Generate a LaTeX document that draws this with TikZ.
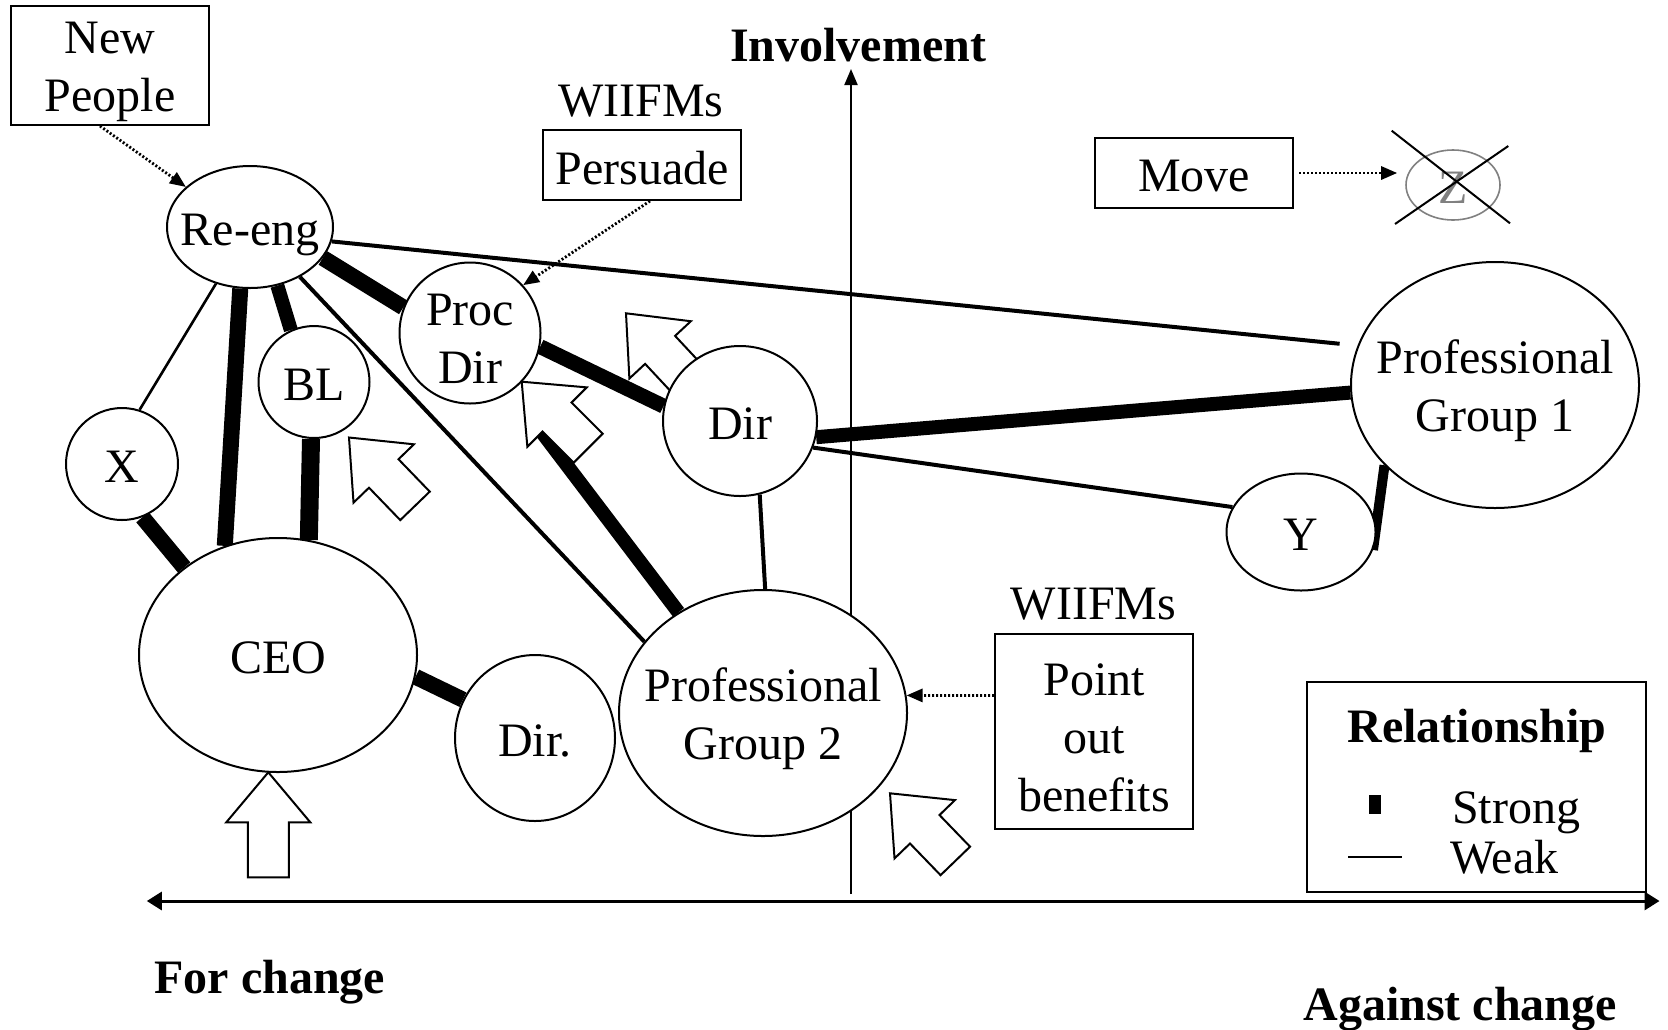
\documentclass[tikz,border=0pt]{standalone}
\usepackage{fontspec}
\setmainfont{Liberation Serif}
\usetikzlibrary{arrows.meta,calc,shapes.geometric}
\pgfdeclarelayer{bg}
\pgfdeclarelayer{mid}
\pgfsetlayers{bg,mid,main}

\tikzset{
  ell/.style 2 args={ellipse, draw, line width=1pt, fill=white, inner sep=0pt,
    minimum width=#1, minimum height=#2},
  tag/.style 2 args={rectangle, draw, line width=1pt, fill=white, inner sep=0pt,
    minimum width=#1, minimum height=#2},
  txt/.style={label={[yshift=-1.5pt, text depth=0pt]center:#1}},
  txtii/.style={label={[yshift=-3pt, align=center]center:{#1}}},
  plain/.style={inner sep=0pt},
  strong/.style={line width=#1},
  strong/.default=7.5pt,
  weak/.style={line width=2pt},
  hint/.style={line width=1.4pt, dash pattern=on 1pt off 1pt,
    -{Triangle[length=8pt,width=6.5pt]}},
  pics/push/.style={code={
    \draw[line width=1pt, fill=white, line join=miter]
      (0,0) -- (-50,-42) -- (-50,-20.5) -- (-#1,-20.5) -- (-#1,20.5)
      -- (-50,20.5) -- (-50,42) -- cycle;}},
  pics/push/.default=95
}

\begin{document}
\begin{tikzpicture}[x=0.5pt,y=0.5pt,
  every node/.style={font=\fontsize{24}{29}\selectfont}]
\useasboundingbox (0,0) rectangle (1668,-1029);

% people and groups
\node[ell={83pt}{61pt}, txt=Re-eng] (reeng) at (250,-227) {};
\node[ell={56pt}{56pt}, txt=X] (x) at (122,-464) {};
\node[ell={55.5pt}{56pt}, txt=BL] (bl) at (314,-382) {};
\node[ell={70.5pt}{70.5pt}, txtii=Proc\\Dir] (proc) at (470,-333) {};
\node[ell={77pt}{75pt}, txt=Dir] (dir) at (740,-421) {};
\node[ell={139pt}{117pt}, txt=CEO] (ceo) at (278,-655) {};
\node[ell={80pt}{83pt}, txt=Dir.] (dirb) at (535,-738) {};
\node[ell={144pt}{123pt}, txtii=Professional\\Group 2] (pg2) at (763,-713) {};
\node[ell={144pt}{123pt}, txtii=Professional\\Group 1] (pg1) at (1495,-385) {};
\node[ell={74.5pt}{58.5pt}, txt=Y] (y) at (1301,-532) {};
\node[ell={47pt}{35pt}, draw=gray, line width=0.8pt,
      label={[yshift=-1.5pt, text=gray]center:Z}] (z) at (1453,-185) {};

% actions
\node[tag={99pt}{59.5pt}, txtii=New\\People] (np) at (110,-65.5) {};
\node[tag={99pt}{35pt}, txt=Persuade] (persuade) at (642,-165) {};
\node[tag={99pt}{35pt}, txt=Move] (move) at (1194,-173) {};
\node[tag={99pt}{97.5pt}, txtii=Point\\out\\benefits] (point) at (1094,-731.5) {};
\node[plain, anchor=base] (wiifm1) at (641,-116) {WIIFMs};
\node[plain, anchor=base] (wiifm2) at (1093.5,-619) {WIIFMs};

% axis titles
\node[plain, anchor=base, font=\fontsize{24}{29}\selectfont\bfseries] (inv) at (858,-61.7) {Involvement};
\node[plain, anchor=base west, font=\fontsize{24}{29}\selectfont\bfseries] (forc) at (154,-993) {For change};
\node[plain, anchor=base west, font=\fontsize{24}{29}\selectfont\bfseries] (agc) at (1303,-1020) {Against change};

% legend
\node[tag={169.5pt}{105pt}] (legend) at (1476.5,-787) {};
\node[plain, anchor=base, font=\fontsize{24}{29}\selectfont\bfseries] (legtitle) at (1477,-742.3) {Relationship};
\node[fill=black, inner sep=0pt, minimum width=5.8pt, minimum height=9.5pt] (strongmark) at (1375,-804.5) {};
\node[plain, anchor=base west] (strongtxt) at (1451.7,-823.3) {Strong};
\node[plain, anchor=base west] (weaktxt) at (1450,-873.3) {Weak};
\draw[line width=1pt] (1348,-856.7) -- (1401.7,-856.7);

% axes and relationships
\begin{pgfonlayer}{bg}
  \coordinate (vbot) at (851,-894);
  \coordinate (vtop) at (851,-69);
  \coordinate (hl) at (146.8,-901);
  \coordinate (hr) at (1659.5,-901);
  \draw[line width=1pt, -{Triangle[length=8pt,width=6.5pt]}] (vbot) -- (vtop);
  \draw[line width=1.5pt, {Triangle[length=7.5pt,width=9pt]}-{Triangle[length=7.5pt,width=9pt]}] (hl) -- (hr);

  \draw[line width=1.3pt] (reeng.-121) -- (x.72);
  \draw[strong=8pt] (reeng.-99) -- (ceo.116);
  \draw[strong=7pt] (reeng.-65) -- (bl.114);
  \draw[strong=8pt] (reeng.-23) -- (proc.159);
  \draw[weak] (reeng.-45) -- (pg2.149);
  \draw[weak, shorten >=9pt] (reeng.-10) -- (pg1.164);
  \draw[strong=8pt] (x.-69) -- (ceo.137.5);
  \draw[strong=9pt] (bl.-93) -- (ceo.75);
  \draw[strong=7.5pt] (proc.-11.5) -- (dir.169);
  \draw[strong=7pt, shorten >=20pt] (pg2.130) -- (proc.-55);
  \draw[weak] (dir.-75) -- (pg2.89);
  \draw[strong=7pt] (dir.-12) -- (pg1.-177);
  \draw[weak] (dir.-20) -- (y.160);
  \draw[strong=5pt] (y.-14) -- (pg1.-144);
  \draw[strong=8pt] (ceo.-9) -- (dirb.152);
\end{pgfonlayer}

% pushes towards change
\begin{pgfonlayer}{mid}
  \pic[rotate=90] at (268.3,-772.3) {push=105};
  \pic[rotate=134] at (349,-437.5) {push=95};
  \pic[rotate=135] at (521.7,-381.7) {push=94};
  \pic[rotate=133] at (626,-313.3) {push=95};
  \pic[rotate=134] at (890,-793.3) {push=94};
\end{pgfonlayer}

% influence
\draw[hint] ([xshift=-5pt]np.south) -- (reeng.148);
\draw[hint] ([xshift=4pt]persuade.south) -- (proc.42);
\draw[hint, shorten <=2.5pt, shorten >=4pt] (move.east) -- (z.west |- move.east);
\draw[hint] ([yshift=18pt]point.west) -- (pg2.7);

% Z is struck out
\draw[line width=1pt] ($(z)+(-61.3,54.3)$) -- ($(z)+(57,-38.3)$);
\draw[line width=1pt] ($(z)+(-58,-39)$) -- ($(z)+(55.3,39)$);
\end{tikzpicture}
\end{document}
